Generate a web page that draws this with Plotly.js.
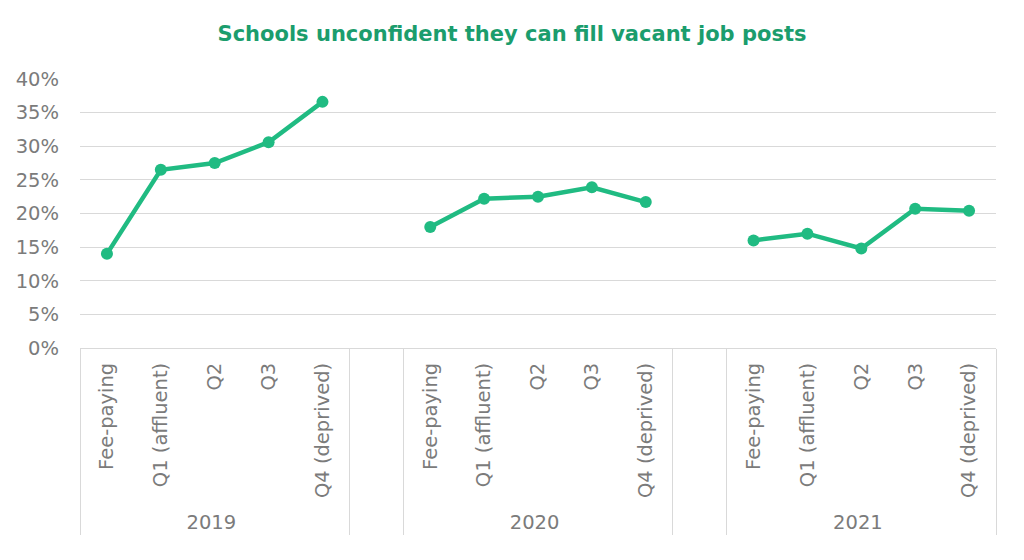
<!DOCTYPE html>
<html>
<head>
<meta charset="utf-8">
<script src="https://cdn.plot.ly/plotly-3.0.1.min.js"></script>
<style>html,body{margin:0;padding:0;background:#fff;}#chart{width:1024px;height:560px;}</style>
</head>
<body>
<div id="chart"></div>
<script>
const years = ['2019', '2020', '2021'];
const categories = ['Fee-paying', 'Q1 (affluent)', 'Q2', 'Q3', 'Q4 (deprived)'];
const values2019 = [14.0, 26.5, 27.5, 30.6, 36.6];
const values2020 = [18.0, 22.2, 22.5, 23.9, 21.7];
const values2021 = [16.0, 17.0, 14.8, 20.7, 20.4];
const seriesByYear = [values2019, values2020, values2021];

// Build multicategory x with an empty spacer group between years
const xOuter = [], xInner = [], yVals = [];
years.forEach((yr, gi) => {
  categories.forEach((c, ci) => {
    xOuter.push(yr); xInner.push(c); yVals.push(seriesByYear[gi][ci]);
  });
  if (gi < years.length - 1) {
    const blank = ' '.repeat(gi + 1);
    xOuter.push(blank); xInner.push(blank); yVals.push(null);
  }
});

const green = '#20bb82';
const tickFont = {family: 'DejaVu Sans, sans-serif', size: 19.5, color: '#7b7b7b'};

const trace = {
  type: 'scatter',
  mode: 'lines+markers',
  x: [xOuter, xInner],
  y: yVals,
  connectgaps: false,
  line: {color: green, width: 4.5},
  marker: {color: green, size: 12},
  hoverinfo: 'skip'
};

const layout = {
  width: 1024, height: 560,
  margin: {l: 80, r: 28, t: 79, b: 212},
  paper_bgcolor: '#ffffff', plot_bgcolor: '#ffffff',
  showlegend: false,
  title: {
    text: 'Schools unconfident they can fill vacant job posts',
    font: {family: 'DejaVu Sans, sans-serif', size: 21, color: '#1b9d6d', weight: 'bold'},
    x: 0.5, xref: 'container', xanchor: 'center', y: 0.94, yref: 'container', yanchor: 'middle'
  },
  xaxis: {
    type: 'multicategory',
    range: [-0.5, xInner.length - 0.5],
    tickfont: tickFont,
    tickangle: -90,
    showgrid: false,
    showline: true, linecolor: '#d9d9d9', linewidth: 1,
    showdividers: true, dividercolor: '#d9d9d9', dividerwidth: 1,
    ticks: '', zeroline: false,
    ticklabelstandoff: 6
  },
  yaxis: {
    range: [0, 40], dtick: 5, tick0: 0,
    ticksuffix: '%',
    tickfont: tickFont,
    showgrid: true, gridcolor: '#d9d9d9', gridwidth: 1,
    zeroline: false, showline: false,
    ticks: '', ticklabelstandoff: 20
  }
};

Plotly.newPlot('chart', [trace], layout, {displayModeBar: false, staticPlot: true});
</script>
</body>
</html>
